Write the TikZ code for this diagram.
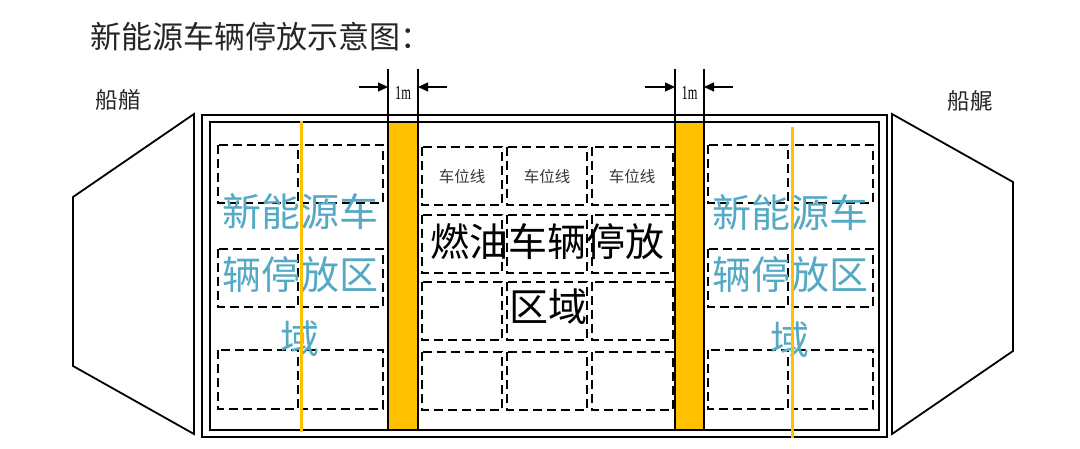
\documentclass[tikz,border=0pt]{standalone}
\usepackage{fontspec}
\newfontfamily\cjk{Noto Sans CJK SC}
\setmainfont{Liberation Serif}
\usetikzlibrary{arrows.meta}
\definecolor{gold}{HTML}{FFC000}
\definecolor{tealtxt}{RGB}{84,170,196}
\definecolor{graytxt}{RGB}{55,55,55}
\begin{document}
\begin{tikzpicture}[x=1pt,y=-1pt,
  hull/.style={draw=black,line width=1.8pt,line join=miter},
  slot/.style={draw=black,line width=2pt,dash pattern=on 9pt off 5pt},
  band/.style={draw=black,fill=gold,line width=1.5pt},
  guide/.style={draw=gold,line width=3pt},
  dimline/.style={draw=black,line width=1.3pt},
  dimarrow/.style={draw=black,line width=1.3pt,-{Triangle[length=10pt,width=9pt]}},
  bigteal/.style={font=\cjk\fontsize{39}{39}\selectfont,text=tealtxt,inner sep=0pt},
  bigblack/.style={font=\cjk\fontsize{39}{39}\selectfont,text=black,inner sep=0pt},
  slotlbl/.style={font=\cjk\fontsize{15.5}{16}\selectfont,text=graytxt,inner sep=0pt},
  sidelbl/.style={font=\cjk\fontsize{22.5}{23}\selectfont,text=black!85,inner sep=0pt},
  dimlbl/.style={font=\fontsize{20}{20}\selectfont,inner sep=0pt}]
\useasboundingbox (0,0) rectangle (1080,449);

% title
\node[font=\cjk\fontsize{31}{31}\selectfont,text=black!85,anchor=west,inner sep=0pt] (title) at (90,37) {新能源车辆停放示意图：};

% bow / stern labels
\node[sidelbl] (bow) at (118,100) {船艏};
\node[sidelbl] (stern) at (970,101) {船艉};

% end trapezoids
\draw[hull] (194,114) -- (73,197) -- (73,366) -- (194,434) -- cycle;
\draw[hull] (892,114) -- (1013,182) -- (1013,351) -- (892,434) -- cycle;

% deck double border
\draw[hull] (202,115) rectangle (887,437);
\draw[hull] (210,122) rectangle (879,430);

% parking slots left and right
\foreach \xa/\xb in {218/298,302/383,708/788,792/873}{
  \foreach \ya/\yb in {145/203,249/307,350/409}{
    \draw[slot] (\xa,\ya) rectangle (\xb,\yb);
  }
}
% parking slots middle
\foreach \xa/\xb in {422/502,507/587,592/673}{
  \foreach \ya/\yb in {147/205,215/273,282/340,352/410}{
    \draw[slot] (\xa,\ya) rectangle (\xb,\yb);
  }
}

% orange separation bands
\draw[band] (388,122) rectangle (418,430);
\draw[band] (675,122) rectangle (704,430);

% dimension markers
\coordinate (d1a) at (388,69); \coordinate (d1b) at (418,69);
\coordinate (d2a) at (675,69); \coordinate (d2b) at (704,69);
\draw[dimline] (d1a) -- (388,122);
\draw[dimline] (d1b) -- (418,122);
\draw[dimline] (d2a) -- (675,122);
\draw[dimline] (d2b) -- (704,122);
\coordinate (a1s) at (359,87); \coordinate (a1e) at (388,87);
\coordinate (a2s) at (447,87); \coordinate (a2e) at (418,87);
\coordinate (a3s) at (645,87); \coordinate (a3e) at (675,87);
\coordinate (a4s) at (733,87); \coordinate (a4e) at (704,87);
\draw[dimarrow] (a1s) -- (a1e);
\draw[dimarrow] (a2s) -- (a2e);
\draw[dimarrow] (a3s) -- (a3e);
\draw[dimarrow] (a4s) -- (a4e);
\node[dimlbl] (m1) at (403,93) {\scalebox{0.62}[1]{1m}};
\node[dimlbl] (m2) at (689.5,93) {\scalebox{0.62}[1]{1m}};

% slot labels
\node[slotlbl] (s1) at (462,177) {车位线};
\node[slotlbl] (s2) at (547,177) {车位线};
\node[slotlbl] (s3) at (632,177) {车位线};

% region texts
\node[bigblack] (f1) at (547,242) {燃油车辆停放};
\node[bigblack] (f2) at (548,307) {区域};

\node[bigteal] (l1) at (300,212) {新能源车};
\node[bigteal] (l2) at (300,275) {辆停放区};
\node[bigteal] (l3) at (300,339) {域};

\node[bigteal] (r1) at (790,213) {新能源车};
\node[bigteal] (r2) at (790,275) {辆停放区};
\node[bigteal] (r3) at (790,340) {域};

% thin yellow guide lines
\draw[guide] (301,121) -- (301,432);
\draw[guide] (792,127) -- (792,438);
\end{tikzpicture}
\end{document}
